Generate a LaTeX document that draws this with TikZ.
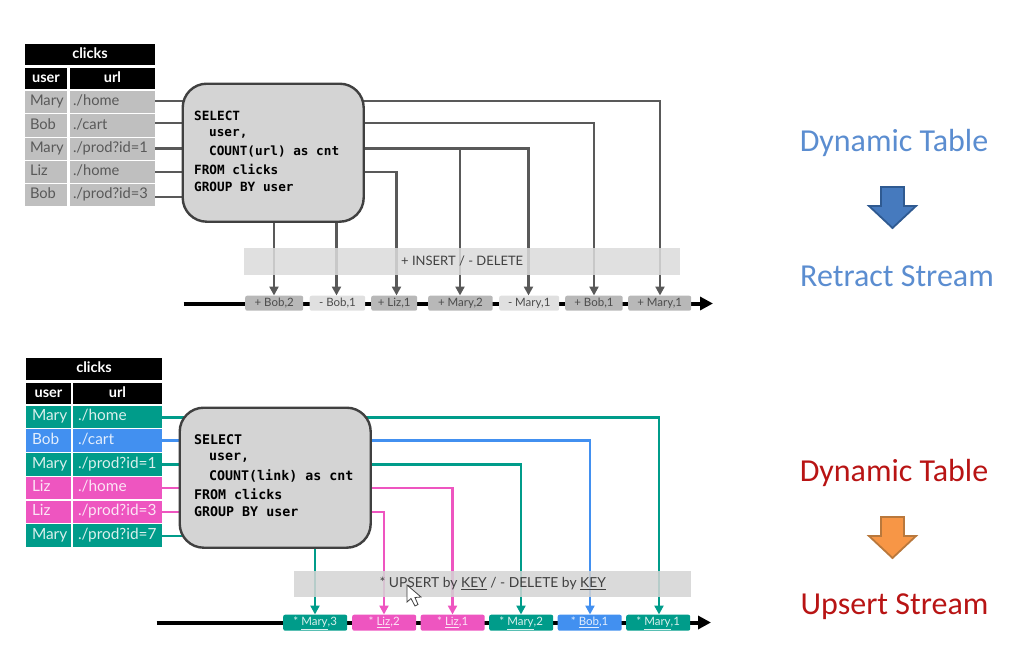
\documentclass[tikz,border=0pt]{standalone}
\usepackage{fontspec}
\setmainfont{Lato}
\newfontfamily\sqlfont{DejaVu Sans Mono}
\newfontfamily\callfont{Carlito}
\usetikzlibrary{arrows.meta}
\pgfdeclarelayer{background}
\pgfsetlayers{background,main}
\definecolor{teal1}{HTML}{009C8A}
\definecolor{blue1}{HTML}{4290F0}
\definecolor{pink1}{HTML}{EE55C0}
\definecolor{line1}{HTML}{595959}
\definecolor{rowgray}{HTML}{BFBFBF}
\definecolor{tokdark}{HTML}{B8B8B8}
\definecolor{toklight}{HTML}{E0E0E0}
\definecolor{bluetxt}{HTML}{5B8DD0}
\definecolor{redtxt}{HTML}{B81414}
\definecolor{bluefill}{HTML}{467ABE}
\definecolor{blueedge}{HTML}{2F5A91}
\definecolor{orangefill}{HTML}{F79646}
\definecolor{orangeedge}{HTML}{B9783C}
\tikzset{
  x=1pt,y=-1pt,
  cellbase/.style={inner sep=0pt,outer sep=0pt,text height=10.5pt,text depth=3pt,font=\fontsize{14.7}{16}\selectfont},
  cellbig/.style={cellbase,font=\fontsize{15.4}{16}\selectfont},
  headcell/.style={cellbase,fill=black,text=white,font=\fontsize{14.5}{16}\selectfont\bfseries},
  sqlbox/.style={draw=black!75,line width=2.4pt,fill=black!17,rounded corners=24pt,inner sep=0pt},
  sqltext/.style={anchor=west,inner sep=0pt,text=black,font=\sqlfont\bfseries\fontsize{#1}{14}\selectfont},
  band/.style 2 args={fill=#1,fill opacity=.86,text opacity=1,inner sep=0pt,text=black!75,font=\fontsize{#2}{15}\selectfont},
  tok/.style={fill=#1,rounded corners=2pt,inner sep=0pt,text height=8.5pt,text depth=2.5pt,font=\fontsize{11.5}{12}\selectfont},
  conn/.style={line width=2.4pt,#1,-{Triangle[length=9pt,width=9pt]}},
  plainconn/.style={line width=2.4pt,#1},
  axis/.style={line width=4pt,black,-{Triangle[length=13pt,width=13pt]}},
  side/.style={inner sep=0pt,font=\callfont\fontsize{32}{36}\selectfont,text=#1},
  blockarrow/.style={line width=1.8pt,draw=#1,line join=miter},
}
\begin{document}
\begin{tikzpicture}
\useasboundingbox (0,0) rectangle (1031,664);
% ---------- upper table
\node[headcell,minimum width=130pt,minimum height=21pt,anchor=north west] (ta) at (25,44) {clicks};
\node[headcell,minimum width=42pt,minimum height=21pt,anchor=north west] (tau) at (25,68) {user};
\node[headcell,minimum width=85pt,minimum height=21pt,anchor=north west] (tal) at (70,68) {url};
\foreach \n/\y/\h/\u/\l in {1/91/22/Mary/{./home},2/114/23/Bob/{./cart},3/138/22/Mary/{./prod?id=1},4/161/22/Liz/{./home},5/184/22/Bob/{./prod?id=3}}{
  \node[cellbase,fill=rowgray,text=black!65,minimum width=42pt,minimum height=\h pt,anchor=north west,text width=32pt,align=left] (au\n) at (25,\y) {\u};
  \node[cellbase,fill=rowgray,text=black!65,minimum width=85pt,minimum height=\h pt,anchor=north west,text width=79pt,align=left] (al\n) at (70,\y) {\l};
}
% upper SQL box
\node[sqlbox,minimum width=181pt,minimum height=138pt,anchor=north west] (sqla) at (181.5,82.5) {};
\node[sqltext=12.7] (sa1) at (194,116) {SELECT};
\node[sqltext=12.7] (sa2) at (209,134) {user,};
\node[sqltext=12.7] (sa3) at (209,152) {COUNT(url) as cnt};
\node[sqltext=12.7] (sa4) at (194,169) {FROM clicks};
\node[sqltext=12.7] (sa5) at (194,187) {GROUP BY user};
% upper stream tokens
\foreach \n/\xa/\w/\c/\t in {1/245/58/tokdark/{+ Bob,2},2/309.5/55.5/toklight/{- Bob,1},3/371/46/tokdark/{+ Liz,1},4/428/64.5/tokdark/{+ Mary,2},5/499/60/toklight/{- Mary,1},6/565/57.5/tokdark/{+ Bob,1},7/628/63/tokdark/{+ Mary,1}}{
  \node[tok=\c,minimum width=\w pt,minimum height=15pt,anchor=north west,text=black!70] (ta\n) at (\xa,295.5) {\t};
}
\coordinate (ax1s) at (183.5,303.5);
\coordinate (ax1e) at (713,303.5);
\coordinate (la1) at (0,101);\coordinate (la2) at (0,123);\coordinate (la3) at (0,148.5);\coordinate (la4) at (0,172);\coordinate (la5) at (0,197);
\coordinate (xa1) at (274,0);\coordinate (xa2) at (336.5,0);\coordinate (xa3) at (396.5,0);\coordinate (xa4) at (460,0);\coordinate (xa5) at (528.5,0);\coordinate (xa6) at (594,0);\coordinate (xa7) at (660,0);
\begin{pgfonlayer}{background}
  \draw[axis] (ax1s) -- (ax1e);
  \foreach \i in {1,...,5}{\draw[plainconn=line1] (al\i.east |- la\i) -- (sqla.center |- la\i);}
  \draw[conn=line1] (sqla.center -| xa1) -- (xa1 |- ta1.north);
  \draw[conn=line1] (sqla.center -| xa2) -- (xa2 |- ta2.north);
  \draw[conn=line1] (sqla.center |- la4) -| (xa3 |- ta3.north);
  \draw[conn=line1] (sqla.center |- la3) -| (xa4 |- ta4.north);
  \draw[conn=line1] (sqla.center |- la3) -| (xa5 |- ta5.north);
  \draw[conn=line1] (sqla.center |- la2) -| (xa6 |- ta6.north);
  \draw[conn=line1] (sqla.center |- la1) -| (xa7 |- ta7.north);
\end{pgfonlayer}
\node[band={black!14}{13},minimum width=436pt,minimum height=26.5pt,anchor=north west] (banda) at (244,248) {+ INSERT / - DELETE};
% ---------- lower table
\node[headcell,minimum width=136pt,minimum height=22pt,anchor=north west] (tb) at (26,358) {clicks};
\node[headcell,minimum width=45pt,minimum height=21pt,anchor=north west] (tbu) at (26,383) {user};
\node[headcell,minimum width=89pt,minimum height=21pt,anchor=north west] (tbl) at (73,383) {url};
\foreach \n/\y/\h/\c/\u/\l in {1/406/22/teal1/Mary/{./home},2/429/23/blue1/Bob/{./cart},3/453/23/teal1/Mary/{./prod?id=1},4/477/22/pink1/Liz/{./home},5/501/22/pink1/Liz/{./prod?id=3},6/524/23/teal1/Mary/{./prod?id=7}}{
  \node[cellbig,fill=\c,text=white!85!\c,minimum width=45pt,minimum height=\h pt,anchor=north west,text width=33pt,align=left] (bu\n) at (26,\y) {\u};
  \node[cellbig,fill=\c,text=white!85!\c,minimum width=89pt,minimum height=\h pt,anchor=north west,text width=79pt,align=left] (bl\n) at (73,\y) {\l};
}
\node[sqlbox,minimum width=191pt,minimum height=140pt,anchor=north west] (sqlb) at (178.5,406.5) {};
\node[sqltext=13.3] (sb1) at (194,440) {SELECT};
\node[sqltext=13.3] (sb2) at (209,458) {user,};
\node[sqltext=13.3] (sb3) at (209,476) {COUNT(link) as cnt};
\node[sqltext=13.3] (sb4) at (194,494) {FROM clicks};
\node[sqltext=13.3] (sb5) at (194,512) {GROUP BY user};
\foreach \n/\xa/\c/\t in {1/283/teal1/{* \underline{Mary},3},2/352/pink1/{* \underline{Liz},2},3/420.5/pink1/{* \underline{Liz},1},4/489/teal1/{* \underline{Mary},2},5/557.5/blue1/{* \underline{Bob},1},6/626/teal1/{* \underline{Mary},1}}{
  \node[tok=\c,minimum width=64pt,minimum height=16pt,anchor=north west,text=white!85!\c] (tb\n) at (\xa,614.5) {\t};
}
\coordinate (ax2s) at (156.5,622.5);
\coordinate (ax2e) at (711,622.5);
\coordinate (lb1) at (0,417.5);\coordinate (lb2) at (0,440.5);\coordinate (lb3) at (0,464.5);\coordinate (lb4) at (0,488);\coordinate (lb5) at (0,512);\coordinate (lb6) at (0,536);
\coordinate (xb1) at (315,0);\coordinate (xb2) at (384,0);\coordinate (xb3) at (452.5,0);\coordinate (xb4) at (521,0);\coordinate (xb5) at (590,0);\coordinate (xb6) at (659,0);
\begin{pgfonlayer}{background}
  \draw[axis] (ax2s) -- (ax2e);
  \draw[plainconn=teal1] (bl1.east |- lb1) -- (sqlb.center |- lb1);
  \draw[plainconn=blue1] (bl2.east |- lb2) -- (sqlb.center |- lb2);
  \draw[plainconn=teal1] (bl3.east |- lb3) -- (sqlb.center |- lb3);
  \draw[plainconn=pink1] (bl4.east |- lb4) -- (sqlb.center |- lb4);
  \draw[plainconn=pink1] (bl5.east |- lb5) -- (sqlb.center |- lb5);
  \draw[plainconn=teal1] (bl6.east |- lb6) -- (sqlb.center |- lb6);
  \draw[conn=teal1] (sqlb.center -| xb1) -- (xb1 |- tb1.north);
  \draw[conn=pink1] (sqlb.center |- lb5) -| (xb2 |- tb2.north);
  \draw[conn=pink1] (sqlb.center |- lb4) -| (xb3 |- tb3.north);
  \draw[conn=teal1] (sqlb.center |- lb3) -| (xb4 |- tb4.north);
  \draw[conn=blue1] (sqlb.center |- lb2) -| (xb5 |- tb5.north);
  \draw[conn=teal1] (sqlb.center |- lb1) -| (xb6 |- tb6.north);
\end{pgfonlayer}
\node[band={black!17}{13.8},minimum width=397pt,minimum height=26.5pt,anchor=north west] (bandb) at (294,570.5) {* UPSERT by \underline{KEY} / - DELETE by \underline{KEY}};
% cursor
\draw[fill=white,draw=black!75,line width=.8pt,line join=miter] (407,585) -- (407,602) -- (411,598.5) -- (415,606) -- (418,604.5) -- (415,597.5) -- (421,597) -- cycle;
% ---------- right column
\node[side=bluetxt] (d1) at (894,142.5) {Dynamic Table};
\node[side=bluetxt] (s1) at (897,276) {Retract Stream};
\node[side=redtxt] (d2) at (894,472.5) {Dynamic Table};
\node[side=redtxt] (s2) at (894.5,606.5) {Upsert Stream};
\draw[blockarrow=blueedge,fill=bluefill] (881,187) -- (904,187) -- (904,206) -- (916,206) -- (892.5,228) -- (869,206) -- (881,206) -- cycle;
\draw[blockarrow=orangeedge,fill=orangefill] (881,517) -- (904,517) -- (904,536) -- (916,536) -- (892.5,558) -- (869,536) -- (881,536) -- cycle;
\end{tikzpicture}
\end{document}
